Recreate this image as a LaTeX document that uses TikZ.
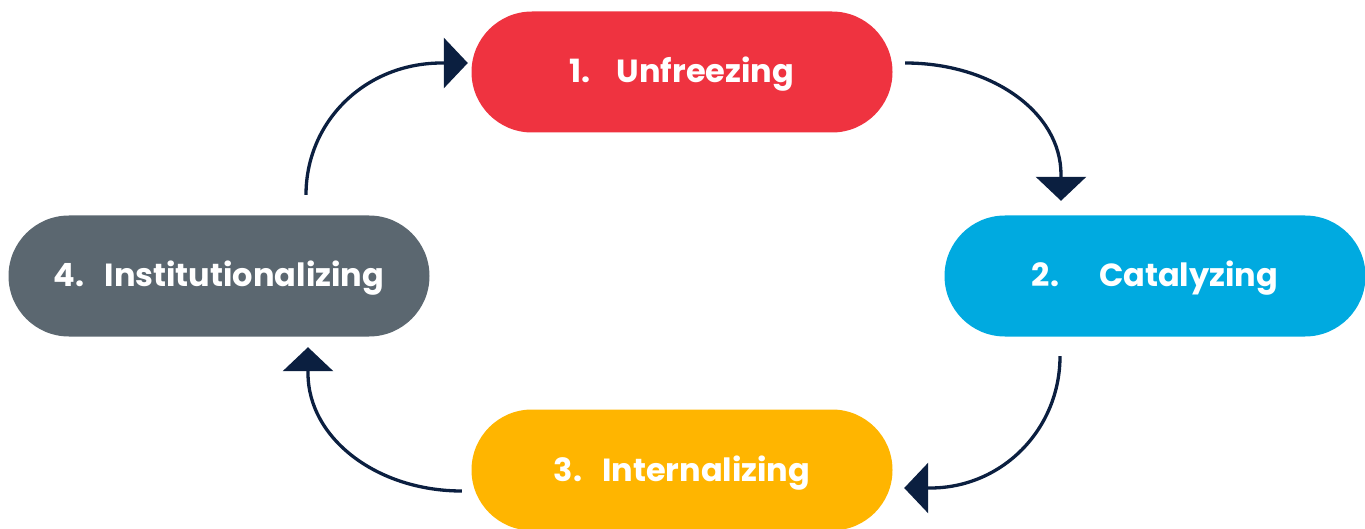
\documentclass[tikz,border=0pt]{standalone}
\usepackage{fontspec}
\setmainfont{Poppins}
\usetikzlibrary{arrows.meta,calc}
\definecolor{cred}{HTML}{EF3340}
\definecolor{cblue}{HTML}{00AAE0}
\definecolor{cyellow}{HTML}{FFB500}
\definecolor{cgray}{HTML}{5B6770}
\definecolor{cnavy}{HTML}{0B1F40}
\tikzset{
  pill/.style={rectangle, rounded corners=60.5pt, minimum width=421pt, minimum height=121pt,
    inner sep=0pt, text=white, text height=22pt, text depth=0pt,
    font=\fontsize{32}{38}\selectfont\bfseries},
  conn/.style={draw=cnavy, line width=3.3pt, -{Triangle[width=50pt,length=24pt]}},
}
\begin{document}
\begin{tikzpicture}[x=1pt,y=-1pt]
\useasboundingbox (0,0) rectangle (1365,529);
\node[pill, fill=cred]    (n1) at (682,72)  {1.\hspace{26pt}Unfreezing};
\node[pill, fill=cblue]   (n2) at (1155,276) {2.\hspace{40pt}Catalyzing};
\node[pill, fill=cyellow] (n3) at (682,470) {3.\hspace{20pt}Internalizing};
\node[pill, fill=cgray]   (n4) at (219,276) {4.\hspace{20pt}Institutionalizing};
% arrow 4 -> 1
\coordinate (a1s) at ($(n4.north)+(87,-20.5)$);
\coordinate (a1e) at ($(n1.west)+(-3.5,-9)$);
\draw[conn] (a1s) .. controls +(0,-73) and +(-77,0) .. ($(a1e)+(-26,0)$) -- (a1e);
% arrow 1 -> 2
\coordinate (a2s) at ($(n1.east)+(12.5,-9)$);
\coordinate (a2e) at ($(n2.north)+(-94,-14.5)$);
\draw[conn] (a2s) .. controls +(86,0) and +(0,-63) .. ($(a2e)+(0,-26)$) -- (a2e);
% arrow 2 -> 3
\coordinate (a3s) at ($(n2.south)+(-95,19.5)$);
\coordinate (a3e) at ($(n3.east)+(11.5,18)$);
\draw[conn] (a3s) .. controls +(0,73) and +(72,0) .. ($(a3e)+(26,0)$) -- (a3e);
% arrow 3 -> 4
\coordinate (a4s) at ($(n3.west)+(-9.5,21)$);
\coordinate (a4e) at ($(n4.south)+(89,10.5)$);
\draw[conn] (a4s) .. controls +(-85,0) and +(0,65) .. ($(a4e)+(0,26)$) -- (a4e);
\end{tikzpicture}
\end{document}
